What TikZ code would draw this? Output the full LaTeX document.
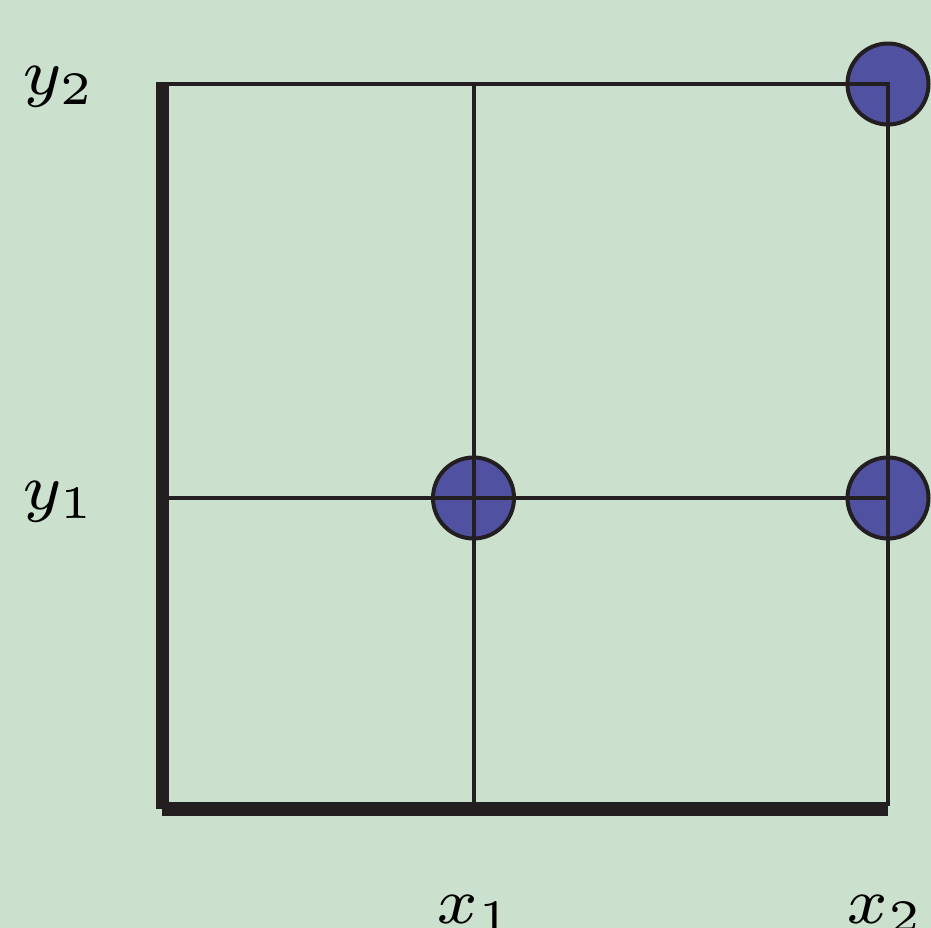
\documentclass[tikz,border=0pt]{standalone}
\definecolor{bg}{HTML}{CCE1CD}
\definecolor{ink}{HTML}{231F20}
\definecolor{dot}{HTML}{5151A1}
\tikzset{
  gridline/.style={draw=ink, line width=4pt, line join=miter},
  axisline/.style={draw=ink, line width=13.5pt},
  pointmark/.style={circle, draw=ink, fill=dot, line width=4pt, minimum size=81pt, inner sep=0pt},
  lbl/.style={inner sep=0pt, outer sep=0pt, anchor=base west, font=\scriptsize, scale=9.3}
}
\begin{document}
\begin{tikzpicture}[x=1pt,y=-1pt]
\fill[bg] (0,0) rectangle (931,928);
\useasboundingbox (0,0) rectangle (931,928);
% points
\node[pointmark] (p22) at (888,84) {};
\node[pointmark] (p11) at (473.5,498) {};
\node[pointmark] (p21) at (888,498) {};
% grid corners
\coordinate (tl) at (163,84);
\coordinate (tr) at (888,84);
\coordinate (br) at (888,806);
\coordinate (ml) at (163,498);
\coordinate (mr) at (888,498);
\coordinate (vt) at (473.5,84);
\coordinate (vb) at (473.5,806);
\draw[gridline] (tl) -- (tr) -- (br);
\draw[gridline] (ml) -- (mr);
\draw[gridline] (vt) -- (vb);
% axes
\coordinate (at) at (162.5,82);
\coordinate (ab) at (162.5,809);
\coordinate (bl) at (162,809);
\coordinate (bre) at (888,809);
\draw[axisline] (at) -- (ab);
\draw[axisline] (bl) -- (bre);
% labels
\node[lbl] (ly2) at (22,95) {$y_2$};
\node[lbl] (ly1) at (22,509) {$y_1$};
\node[lbl] (lx1) at (436,923) {$x_1$};
\node[lbl] (lx2) at (846,923) {$x_2$};
\end{tikzpicture}
\end{document}
